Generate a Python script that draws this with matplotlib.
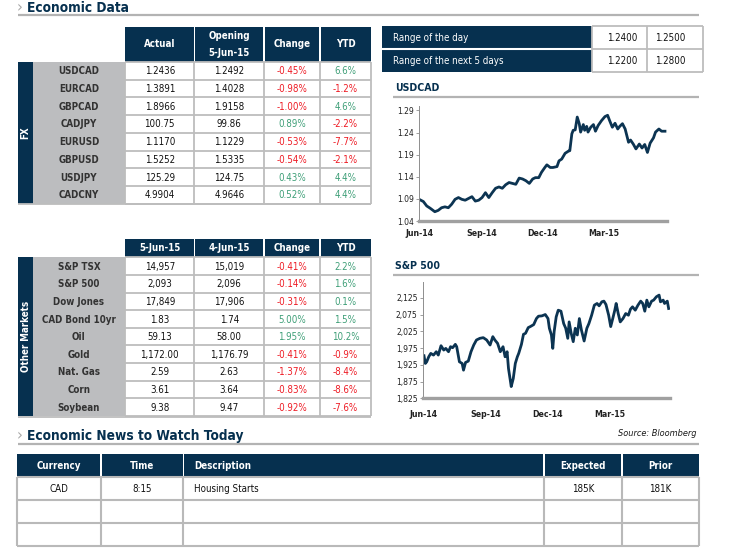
import matplotlib
matplotlib.use('Agg')
import matplotlib.pyplot as plt
from matplotlib.patches import Rectangle
from matplotlib import font_manager as fm
import pandas as pd

# ---------------- data ----------------
fx_pairs = ['USDCAD', 'EURCAD', 'GBPCAD', 'CADJPY', 'EURUSD', 'GBPUSD', 'USDJPY', 'CADCNY']
fx_actual = ['1.2436', '1.3891', '1.8966', '100.75', '1.1170', '1.5252', '125.29', '4.9904']
fx_opening = ['1.2492', '1.4028', '1.9158', '99.86', '1.1229', '1.5335', '124.75', '4.9646']
fx_change = [-0.45, -0.98, -1.00, 0.89, -0.53, -0.54, 0.43, 0.52]
fx_ytd = [6.6, -1.2, 4.6, -2.2, -7.7, -2.1, 4.4, 4.4]
fx_headers = ['Actual', 'Opening\n5-Jun-15', 'Change', 'YTD']

mkt_names = ['S&P TSX', 'S&P 500', 'Dow Jones', 'CAD Bond 10yr', 'Oil', 'Gold', 'Nat. Gas', 'Corn', 'Soybean']
mkt_today = ['14,957', '2,093', '17,849', '1.83', '59.13', '1,172.00', '2.59', '3.61', '9.38']
mkt_prev = ['15,019', '2,096', '17,906', '1.74', '58.00', '1,176.79', '2.63', '3.64', '9.47']
mkt_change = [-0.41, -0.14, -0.31, 5.00, 1.95, -0.41, -1.37, -0.83, -0.92]
mkt_ytd = [2.2, 1.6, 0.1, 1.5, 10.2, -0.9, -8.4, -8.6, -7.6]
mkt_headers = ['5-Jun-15', '4-Jun-15', 'Change', 'YTD']

range_labels = ['Range of the day', 'Range of the next 5 days']
range_low = ['1.2400', '1.2200']
range_high = ['1.2500', '1.2800']

news_cols = ['Currency', 'Time', 'Description', 'Expected', 'Prior']
news_rows = [['CAD', '8:15', 'Housing Starts', '185K', '181K'],
             ['', '', '', '', ''],
             ['', '', '', '', '']]

usd_dates = ['2014-06-02', '2014-06-07', '2014-06-12', '2014-06-17', '2014-06-24', '2014-06-29',
             '2014-07-04', '2014-07-09', '2014-07-14', '2014-07-19', '2014-07-24', '2014-07-29',
             '2014-08-03', '2014-08-08', '2014-08-13', '2014-08-18', '2014-08-23', '2014-08-28',
             '2014-09-02', '2014-09-07', '2014-09-12', '2014-09-17', '2014-09-22', '2014-09-27',
             '2014-10-02', '2014-10-07', '2014-10-12', '2014-10-17', '2014-10-22', '2014-10-27',
             '2014-11-01', '2014-11-06', '2014-11-11', '2014-11-16', '2014-11-20', '2014-11-25',
             '2014-11-29', '2014-12-04', '2014-12-07', '2014-12-12', '2014-12-16', '2014-12-22',
             '2014-12-25', '2014-12-29', '2015-01-03', '2015-01-08', '2015-01-10', '2015-01-13',
             '2015-01-15', '2015-01-18', '2015-01-21', '2015-01-24', '2015-01-26', '2015-01-30',
             '2015-02-01', '2015-02-04', '2015-02-06', '2015-02-10', '2015-02-14', '2015-02-17',
             '2015-02-21', '2015-02-26', '2015-03-03', '2015-03-07', '2015-03-10', '2015-03-14',
             '2015-03-18', '2015-03-22', '2015-03-25', '2015-03-29', '2015-04-02', '2015-04-07',
             '2015-04-10', '2015-04-14', '2015-04-18', '2015-04-23', '2015-04-27', '2015-05-01',
             '2015-05-05', '2015-05-09', '2015-05-14', '2015-05-17', '2015-05-22', '2015-05-26',
             '2015-05-31']
usd_vals = [1.088, 1.084, 1.074, 1.069, 1.061, 1.064,
            1.070, 1.072, 1.070, 1.078, 1.089, 1.093,
            1.089, 1.087, 1.091, 1.095, 1.085, 1.087,
            1.093, 1.104, 1.093, 1.104, 1.114, 1.117,
            1.114, 1.122, 1.127, 1.125, 1.123, 1.137,
            1.135, 1.131, 1.125, 1.135, 1.138, 1.138,
            1.150, 1.161, 1.167, 1.161, 1.161, 1.163,
            1.176, 1.180, 1.193, 1.198, 1.199, 1.237,
            1.245, 1.246, 1.275, 1.260, 1.241, 1.258,
            1.245, 1.254, 1.241, 1.252, 1.258, 1.243,
            1.256, 1.267, 1.276, 1.279, 1.267, 1.252,
            1.261, 1.248, 1.254, 1.260, 1.248, 1.218,
            1.223, 1.214, 1.203, 1.214, 1.205, 1.213,
            1.195, 1.216, 1.228, 1.241, 1.248, 1.243,
            1.243]

sp_dates = ['2014-06-02', '2014-06-04', '2014-06-06', '2014-06-09', '2014-06-12', '2014-06-16',
            '2014-06-20', '2014-06-23', '2014-06-27', '2014-07-01', '2014-07-04', '2014-07-08',
            '2014-07-11', '2014-07-14', '2014-07-18', '2014-07-20', '2014-07-24', '2014-07-28',
            '2014-07-30', '2014-08-02', '2014-08-06', '2014-08-10', '2014-08-14', '2014-08-18',
            '2014-08-23', '2014-08-28', '2014-09-02', '2014-09-07', '2014-09-11', '2014-09-14',
            '2014-09-18', '2014-09-22', '2014-09-26', '2014-09-29', '2014-10-02', '2014-10-04',
            '2014-10-07', '2014-10-08', '2014-10-11', '2014-10-14', '2014-10-17', '2014-10-19',
            '2014-10-23', '2014-10-26', '2014-10-29', '2014-11-02', '2014-11-05', '2014-11-10',
            '2014-11-14', '2014-11-17', '2014-11-22', '2014-11-27', '2014-12-01', '2014-12-03',
            '2014-12-06', '2014-12-08', '2014-12-10', '2014-12-13', '2014-12-16', '2014-12-20',
            '2014-12-24', '2014-12-27', '2014-12-30', '2015-01-01', '2015-01-04', '2015-01-07',
            '2015-01-10', '2015-01-13', '2015-01-16', '2015-01-19', '2015-01-23', '2015-01-27',
            '2015-01-30', '2015-02-03', '2015-02-07', '2015-02-11', '2015-02-14', '2015-02-18',
            '2015-02-21', '2015-02-24', '2015-02-28', '2015-03-03', '2015-03-06', '2015-03-09',
            '2015-03-11', '2015-03-14', '2015-03-17', '2015-03-21', '2015-03-25', '2015-03-29',
            '2015-04-01', '2015-04-04', '2015-04-08', '2015-04-12', '2015-04-16', '2015-04-19',
            '2015-04-22', '2015-04-25', '2015-04-28', '2015-05-02', '2015-05-05', '2015-05-09',
            '2015-05-13', '2015-05-15', '2015-05-19', '2015-05-21', '2015-05-25', '2015-05-27']
sp_vals = [1952, 1929, 1934, 1949, 1959, 1954,
           1964, 1954, 1982, 1969, 1974, 1964,
           1979, 1976, 1986, 1979, 1934, 1929,
           1909, 1932, 1936, 1964, 1984, 1999,
           2004, 2006, 1999, 1984, 2009, 1999,
           1989, 1964, 1979, 1949, 1964, 1914,
           1874, 1860, 1884, 1929, 1949, 1959,
           1986, 2016, 2019, 2036, 2039, 2045,
           2063, 2070, 2071, 2075, 2063, 2034,
           2014, 1974, 2024, 2068, 2088, 2085,
           2048, 2034, 2004, 2053, 2019, 1994,
           2034, 2014, 2063, 2029, 1996, 2034,
           2048, 2073, 2103, 2108, 2101, 2113,
           2115, 2105, 2073, 2039, 2063, 2088,
           2108, 2078, 2053, 2063, 2078, 2073,
           2091, 2098, 2088, 2103, 2115, 2108,
           2085, 2118, 2098, 2115, 2118, 2128,
           2133, 2113, 2118, 2108, 2115, 2093]

usd_yticks = [1.04, 1.09, 1.14, 1.19, 1.24, 1.29]
sp_yticks = [1825, 1875, 1925, 1975, 2025, 2075, 2125]
x_tick_dates = ['2014-06-01', '2014-09-01', '2014-12-01', '2015-03-01']
x_tick_labels = ['Jun-14', 'Sep-14', 'Dec-14', 'Mar-15']

# ---------------- style ----------------
W, H = 737, 553
NAVY = '#06304f'
GREY_LBL = '#bcbdbf'
GRID = '#bdbdbd'
RULE = '#b3b3b3'
RED = '#ee1c25'
GREEN = '#3f9f78'
TXT = '#111111'
LINE = '#0c3452'

cond_path = fm.findfont(fm.FontProperties(family='DejaVu Sans', stretch='condensed'))
FAM = 'DejaVu Sans' if 'Condensed' in cond_path else 'Liberation Sans'
plt.rcParams['font.family'] = [FAM, 'DejaVu Sans']
STRETCH = 'condensed'

fig = plt.figure(figsize=(W / 100, H / 100), dpi=100)
bg = fig.add_axes([0, 0, 1, 1])
bg.set_xlim(0, W)
bg.set_ylim(H, 0)
bg.axis('off')

PX = 100 / 72.0


def rect(x0, y0, x1, y1, fc):
    bg.add_patch(Rectangle((x0, y0), x1 - x0, y1 - y0, facecolor=fc, edgecolor='none', lw=0))


def hline(y, x0, x1, c=GRID, lw=1.3):
    bg.plot([x0, x1], [y, y], color=c, lw=lw, solid_capstyle='butt')


def vline(x, y0, y1, c=GRID, lw=1.3):
    bg.plot([x, x], [y0, y1], color=c, lw=lw, solid_capstyle='butt')


def txt(x, y, s, size=7.0, color=TXT, ha='center', weight='normal', style='normal'):
    base = y + 0.73 * size * PX / 2.0
    bg.text(x, base, s, fontsize=size, color=color, ha=ha, va='baseline',
            fontweight=weight, fontstretch=STRETCH, fontstyle=style)


def section(title, y_base, y_rule):
    bg.text(17, y_base, '\u203a', fontsize=10.5, color='#a8a8a8', ha='left', va='baseline')
    bg.text(27.5, y_base, title, fontsize=9.8, color=NAVY, ha='left', va='baseline',
            fontweight='bold', fontstretch=STRETCH)
    hline(y_rule, 18, 699, c=RULE, lw=1.6)


def pct_color(v):
    return RED if v < 0 else GREEN


def data_table(top, hdr_bottom, row_h, names, c1, c2, chg, ytd, headers, side_label):
    cols = [125, 194.5, 264, 320, 371]
    n = len(names)
    bottom = hdr_bottom + n * row_h
    # header cells
    for i in range(4):
        x0 = cols[i] + (0 if i == 0 else 0.9)
        x1 = cols[i + 1] - (0.9 if i < 3 else 0)
        rect(x0, top, x1, hdr_bottom, NAVY)
        hy = (top + hdr_bottom) / 2 - 1
        if '\n' in headers[i]:
            a, b = headers[i].split('\n')
            txt((cols[i] + cols[i + 1]) / 2, hy - 7.5, a, color='white', weight='bold')
            txt((cols[i] + cols[i + 1]) / 2, hy + 9.5, b, color='white', weight='bold')
        else:
            txt((cols[i] + cols[i + 1]) / 2, hy, headers[i], color='white', weight='bold')
    # side label and grey name column
    rect(17.7, hdr_bottom, 33.3, bottom, NAVY)
    rect(33.3, hdr_bottom, 125, bottom, GREY_LBL)
    bg.text(25.6, (hdr_bottom + bottom) / 2, side_label, rotation=90, color='white',
            fontsize=7, fontweight='bold', ha='center', va='center', fontstretch=STRETCH)
    # grid
    for r in range(n + 1):
        hline(hdr_bottom + r * row_h, 125, 371)
    for x in cols:
        vline(x, hdr_bottom, bottom)
    hline(bottom + 0.8, 17.7, 371)
    # texts
    for r in range(n):
        yc = hdr_bottom + (r + 0.5) * row_h
        txt(79, yc, names[r], color='#333333', weight='bold')
        txt((cols[0] + cols[1]) / 2, yc, c1[r])
        txt((cols[1] + cols[2]) / 2, yc, c2[r])
        txt((cols[2] + cols[3]) / 2, yc, f'{chg[r]:.2f}%', color=pct_color(chg[r]))
        txt((cols[3] + cols[4]) / 2, yc, f'{ytd[r]:.1f}%', color=pct_color(ytd[r]))


# ---- headers ----
section('Economic Data', 11.8, 14.9)
section('Economic News to Watch Today', 440, 444.3)

# ---- tables ----
data_table(26.7, 62, 17.7, fx_pairs, fx_actual, fx_opening, fx_change, fx_ytd, fx_headers, 'FX')
data_table(239.3, 257.3, 17.63, mkt_names, mkt_today, mkt_prev, mkt_change, mkt_ytd,
           mkt_headers, 'Other Markets')

# ---- range table ----
rect(381.7, 26, 591.7, 72, NAVY)
hline(48.7, 381.7, 591.7, c='white', lw=1.5)
for y in [26, 48.7, 72]:
    hline(y, 591.7, 702.7)
for x in [591.7, 646.7, 702.7]:
    vline(x, 26, 72)
for i in range(2):
    yc = 37.5 + i * 23
    txt(392.7, yc, range_labels[i], color='white', ha='left')
    txt(622, yc, range_low[i])
    txt(670, yc, range_high[i])

# ---- chart titles ----
txt(395, 87, 'USDCAD', color=NAVY, weight='bold', ha='left', size=7.6)
hline(97.3, 392.7, 699, c=RULE, lw=1.6)
txt(395, 265, 'S&P 500', color=NAVY, weight='bold', ha='left', size=7.6)
hline(275, 392.7, 699, c=RULE, lw=1.6)
txt(697, 433, 'Source: Bloomberg', color='#1a1a1a', ha='right', size=6.6, style='italic')

# ---- news table ----
ncols = [17.3, 100.8, 183.5, 543.8, 622.2, 698.7]
for i in range(5):
    x0 = ncols[i] + (0 if i == 0 else 0.9)
    x1 = ncols[i + 1] - (0.9 if i < 4 else 0)
    rect(x0, 454.3, x1, 477.3, NAVY)
    if news_cols[i] == 'Description':
        txt(194, 465.8, news_cols[i], color='white', weight='bold', ha='left')
    else:
        txt((ncols[i] + ncols[i + 1]) / 2, 465.8, news_cols[i], color='white', weight='bold')
nrows = [477.3, 500, 522.7, 546]
for y in nrows:
    hline(y, 17.3, 698.7, c='#b9b9b9', lw=1.5)
for x in ncols:
    vline(x, 477.3, 546, c='#b9b9b9', lw=1.5)
for r, row in enumerate(news_rows):
    yc = (nrows[r] + nrows[r + 1]) / 2
    for i, s in enumerate(row):
        if not s:
            continue
        if news_cols[i] == 'Description':
            txt(194, yc, s, ha='left')
        else:
            txt((ncols[i] + ncols[i + 1]) / 2, yc, s)


# ---- line charts ----
def line_chart(px_left, px_right, px_top, px_bottom, dates, vals, ylim, yticks, ylabels,
               xlim, xpad):
    ax = fig.add_axes([px_left / W, 1 - px_bottom / H, (px_right - px_left) / W,
                       (px_bottom - px_top) / H])
    ax.patch.set_alpha(0)
    ax.plot(pd.to_datetime(dates), vals, color=LINE, lw=2.0, solid_joinstyle='round')
    ax.set_xlim(pd.Timestamp(xlim[0]), pd.Timestamp(xlim[1]))
    ax.set_ylim(*ylim)
    ax.set_yticks(yticks)
    ax.set_yticklabels(ylabels)
    ax.set_xticks(pd.to_datetime(x_tick_dates))
    ax.set_xticklabels(x_tick_labels, fontweight='bold', fontstretch=STRETCH)
    for s in ['top', 'right']:
        ax.spines[s].set_visible(False)
    ax.spines['left'].set_color('#8e8e8e')
    ax.spines['left'].set_linewidth(0.7)
    ax.spines['bottom'].set_color('#a0a0a0')
    ax.spines['bottom'].set_linewidth(2.4)
    ax.tick_params(axis='y', length=2.5, width=0.6, color='#8e8e8e', pad=1.5,
                   labelsize=6.1, labelcolor='#222222')
    ax.tick_params(axis='x', length=0, pad=xpad, labelsize=6.3, labelcolor='#222222')
    for lab in ax.get_yticklabels():
        lab.set_fontstretch(STRETCH)
    return ax


line_chart(419.3, 667, 106, 221, usd_dates, usd_vals, (1.04, 1.30), usd_yticks,
           [f'{v:.2f}' for v in usd_yticks], ('2014-06-01', '2015-06-03'), 6)
line_chart(423.3, 670, 281.7, 398.3, sp_dates, sp_vals, (1825, 2173), sp_yticks,
           [f'{v:,}' for v in sp_yticks], ('2014-06-01', '2015-05-29'), 8.5)

fig.savefig('out.png', dpi=100)
